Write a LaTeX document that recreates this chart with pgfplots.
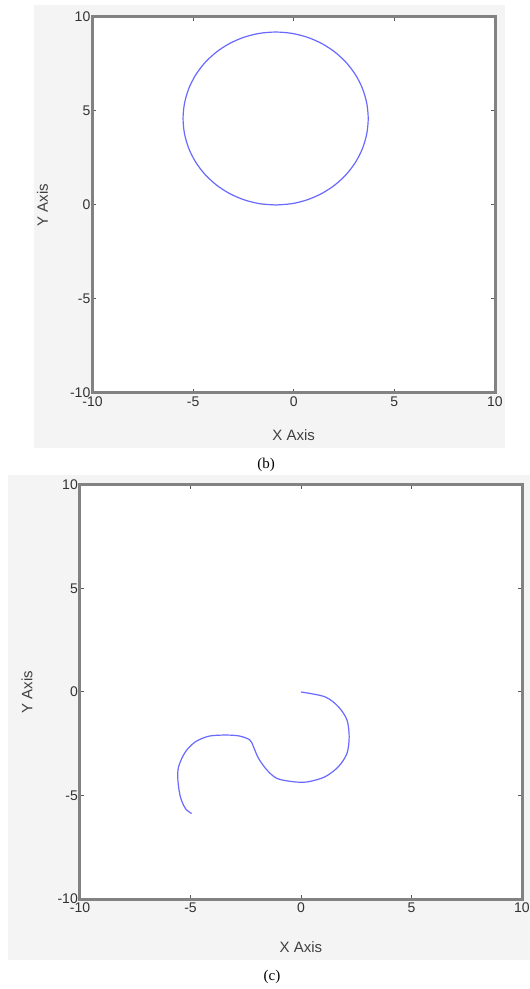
\documentclass[border=0pt]{standalone}
\usepackage{pgfplots}
\pgfplotsset{compat=1.18}
\usepackage{fontspec}
\setmainfont{Liberation Serif}
\newfontfamily\axf{Liberation Sans}
\definecolor{figbg}{RGB}{244,244,244}
\definecolor{axgray}{RGB}{130,130,130}
\definecolor{trace}{RGB}{105,105,255}
\pgfplotsset{mstyle/.style={
  scale only axis,
  xmin=-10,xmax=10,ymin=-10,ymax=10,
  xtick={-10,-5,0,5,10}, ytick={-10,-5,0,5,10},
  xticklabels={-10,-5,0,5,10}, yticklabels={-10,-5,0,5,10},
  tick align=inside, major tick length=4pt,
  axis line style={axgray, line width=3pt},
  every tick/.style={black!65, line width=1pt},
  axis background/.style={fill=white, draw=axgray, line width=3pt},
  tick label style={font=\axf\fontsize{14}{16}\selectfont, text=black!80},
  yticklabel style={inner sep=2pt},
  xticklabel style={inner sep=2pt, yshift=-2pt},
  label style={font=\axf\fontsize{15}{17}\selectfont, text=black!75},
  xlabel={X Axis}, ylabel={Y Axis},
}}
\begin{document}
\begin{tikzpicture}[x=1pt,y=1pt]
\path[use as bounding box, fill=white] (0,0) rectangle (530,989);
\fill[figbg] (34,541) rectangle (505,984);
\fill[figbg] (8,29) rectangle (530,514);
\node[font=\fontsize{15}{17}\selectfont] at (266,524) {(b)};
\node[font=\fontsize{15}{17}\selectfont] at (272,12) {(c)};
\begin{axis}[mstyle, at={(92.5pt,596pt)}, anchor=south west,
  width=402.5pt, height=376pt,
  xlabel style={at={(axis description cs:0.5,-0.112)}, anchor=center},
  ylabel style={at={(axis description cs:-0.124,0.5)}, anchor=center, rotate=0}]
\addplot[trace, line width=1.2pt, smooth] coordinates {
(-0.9,0) (-0.10,0.07) (0.673,0.277) (1.4,0.616) (2.057,1.076) (2.624,1.643)
(3.084,2.3) (3.423,3.027) (3.63,3.801) (3.7,4.6) (3.63,5.399) (3.423,6.173)
(3.084,6.9) (2.624,7.557) (2.057,8.124) (1.4,8.584) (0.673,8.923) (-0.10,9.13)
(-0.9,9.2) (-1.699,9.13) (-2.473,8.923) (-3.2,8.584) (-3.857,8.124) (-4.424,7.557)
(-4.884,6.9) (-5.223,6.173) (-5.43,5.399) (-5.5,4.6) (-5.43,3.801) (-5.223,3.027)
(-4.884,2.3) (-4.424,1.643) (-3.857,1.076) (-3.2,0.616) (-2.473,0.277) (-1.699,0.07)
(-0.9,0)};
\end{axis}
\begin{axis}[mstyle, at={(80pt,90pt)}, anchor=south west,
  width=442pt, height=414pt,
  xlabel style={at={(axis description cs:0.5,-0.116)}, anchor=center},
  ylabel style={at={(axis description cs:-0.12,0.5)}, anchor=center, rotate=0}]
\addplot[trace, line width=1.2pt, smooth] coordinates {
(0,0) (1.08,-0.23) (1.69,-0.71) (2.08,-1.35) (2.18,-2.16) (2.08,-2.97)
(1.69,-3.61) (1.08,-4.10) (0.31,-4.34) (-0.31,-4.34) (-1.08,-4.18)
(-1.54,-3.77) (-1.92,-3.21) (-2.15,-2.65) (-2.31,-2.32) (-2.77,-2.13)
(-3.38,-2.08) (-4.15,-2.13) (-4.77,-2.40) (-5.23,-2.89) (-5.54,-3.61)
(-5.57,-4.26) (-5.46,-5.06) (-5.23,-5.63) (-4.95,-5.87)};
\end{axis}
\end{tikzpicture}
\end{document}
